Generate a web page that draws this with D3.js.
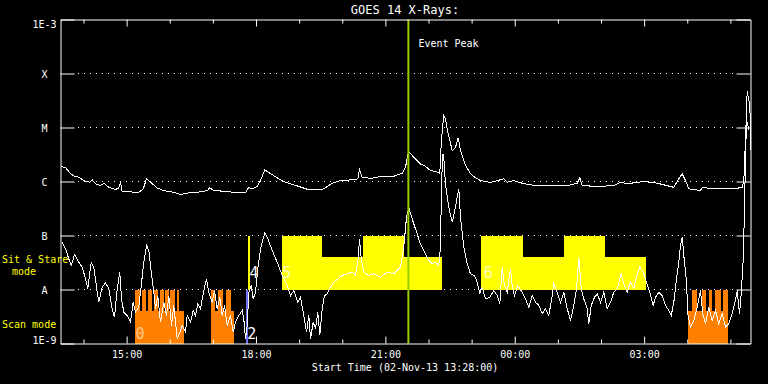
<!DOCTYPE html>
<html>
<head>
<meta http-equiv="Content-type" content="text/html; charset=utf-8">
<title>GOES 14 X-Rays</title>
<script src="https://d3js.org/d3.v7.min.js"></script>
<style>
  html, body { margin: 0; background: #000; }
  text { font-family: "DejaVu Sans Mono", monospace; }
</style>
</head>
<body>
<div id="chart"></div>
<script>
// start of the plot and its length
var startTime = "2013-11-02T13:28:00Z";
var spanHours = 16;
var eventPeak = "2013-11-02T21:32:00Z";

// long channel (1-8 A), minutes after start / W m^-2
var longMin = [1,7,14,19,25.5,32.4,40.8,44.1,48.7,55.7,
  60.2,67.2,76.5,81.1,83.5,85.8,97.4,108.9,115.1,119.7,
  125.2,134.5,143.7,157.6,167,176.3,190.2,204.1,207.7,213.3,
  227.2,241.1,257.4,262,266.7,273.7,278.3,284.2,292.2,301.5,
  310.7,320,331.5,343.2,357.2,366.3,378,389.6,403.5,413.6,
  416,419.8,431.3,445.2,463.7,475.4,480,484.2,485.6,491.5,
  500.9,505.5,514.8,524.1,527.7,529.7,531.5,533.3,535.6,538.8,
  545,549.6,553.3,556.5,563.5,570.4,577.4,584.4,598.3,616.8,
  621.5,630.7,644.6,663.2,686.3,705,718.9,722.5,725.8,746.7,
  769.8,779.1,788.4,811.5,830.2,853.3,860.2,865,869.6,874.2,
  890.4,892.8,908.9,936.8,948.5,950.7,953,955.4,956.8,958.6,
  959.5,960];
var longFlux = [1.9e-6,1.8e-6,1.4e-6,1.25e-6,1.2e-6,1.04e-6,9.7e-7,1.07e-6,9.1e-7,8.4e-7,
  9.3e-7,7.8e-7,7.1e-7,7.6e-7,9.7e-7,6.5e-7,6.4e-7,6.3e-7,7.3e-7,1.12e-6,
  9.7e-7,7.6e-7,6.8e-7,6.3e-7,5.75e-7,6.1e-7,6.3e-7,6.8e-7,7.6e-7,6.8e-7,
  6.6e-7,6.3e-7,6.2e-7,7.8e-7,7.3e-7,8.1e-7,1.04e-6,1.65e-6,1.4e-6,1.17e-6,
  1.0e-6,9.1e-7,8.1e-7,7.2e-7,7.0e-7,7.3e-7,9.3e-7,1.04e-6,1.07e-6,1.12e-6,
  1.65e-6,1.2e-6,1.14e-6,1.23e-6,1.25e-6,1.43e-6,1.84e-6,3.6e-6,3.5e-6,2.8e-6,
  2.1e-6,2.0e-6,1.6e-6,1.5e-6,1.39e-6,5.0e-6,1.01e-5,1.67e-5,1.47e-5,8.2e-6,
  3.75e-6,4.3e-6,6.45e-6,3.75e-6,2.0e-6,1.39e-6,1.17e-6,1.04e-6,9.6e-7,1.12e-6,
  9.7e-7,1.04e-6,9.1e-7,8.3e-7,8.4e-7,8.4e-7,9.3e-7,1.17e-6,8.4e-7,8.1e-7,
  8.4e-7,9.7e-7,9.1e-7,1.0e-6,9.3e-7,7.8e-7,1.12e-6,1.39e-6,1.04e-6,7.3e-7,
  6.8e-7,7.8e-7,7.3e-7,7.3e-7,7.8e-7,1.04e-6,5.75e-6,4.8e-5,3.64e-5,2.8e-5,
  1.67e-5,3.75e-6];

// short channel (0.5-4 A)
var shortMin = [2.4,7,11.5,14.9,19.5,25.5,30.2,34.8,38,42.7,
  46.3,51.1,53.3,58,62.6,67.2,71.9,75.1,78.9,82.5,
  84.9,88.1,92.8,97.4,101.1,104.3,108.9,111.3,115.9,119.7,
  122.9,126.2,129.8,132.2,135.4,139.1,143.7,147.5,150.7,154.4,
  157.6,162.4,166,169.3,173.9,176.3,180.9,184.6,187.8,191,
  194.8,199.4,203.1,206.3,211.1,214.3,218,221.6,225,228.2,
  231.9,236.5,240.3,243.5,248.1,252.8,255,257.4,259.8,262,
  265.3,268.1,271.3,274.5,278.3,282,284.2,287.6,294.5,301.5,
  308.4,315.4,320,324.6,330.2,333.9,338.5,342.3,345.5,347.8,
  351.6,354.8,358,360.8,364.1,367.3,371.1,375.7,380.2,385,
  391.9,398.9,405.8,410.4,414.2,416,418.4,422,428.9,435.9,
  445.2,454.5,463.7,470.7,473,477.6,481.4,484.6,487,491.5,
  496.3,499.9,503.2,507.8,512.4,517.2,521.7,526.3,528.7,530.1,
  531.9,533.3,535.6,540.2,545,548.6,551.9,554.2,556.5,561.1,
  565.8,570.4,576,579.7,583.4,586.7,591.3,597.3,602.9,607.6,
  611.2,614.5,617.7,621.5,626.1,628.4,631.6,636.2,642.4,647,
  651.6,656.3,660.9,665.5,670.2,674.8,679.4,684.1,686.3,691,
  695.7,700.3,705,709.6,714.2,717.9,721.1,724.5,728.1,732.8,
  735,738.4,743,746.7,751.3,755.9,760.6,765.2,769.8,774.5,
  780.1,783.7,788.4,793,797.6,802.4,806,810.7,815.3,819.9,
  824.6,827.8,832.4,837.2,841.7,846.3,849.7,853.3,857,860.2,
  862.6,865,867.2,871,872.8,876.5,881.1,885.8,890.4,893.6,
  897.4,902,906.7,911.3,915.9,920.6,925.2,929.8,934.5,939.1,
  941.5,944.7,947.1,949.8,951.6,953,954.4,958];
var shortFlux = [7.5e-8,5.7e-8,3.7e-8,2.8e-8,4.4e-8,3.2e-8,2.6e-8,1.58e-8,1.03e-8,3.2e-8,
  2.6e-8,8.9e-9,5.8e-9,1.1e-8,1.33e-8,1.03e-8,4.4e-9,3.07e-9,1.03e-8,2.09e-8,
  6.7e-9,3.8e-9,3.3e-9,2.48e-9,5.8e-9,3.8e-9,4.7e-9,8.9e-9,3.2e-8,6.5e-8,
  5.3e-8,2.1e-8,8.9e-9,4.4e-9,7.7e-9,2.48e-9,5.8e-9,3.3e-9,7.7e-9,2.15e-9,
  5.06e-9,1.22e-9,1.62e-9,2.15e-9,1.62e-9,3.3e-9,2.48e-9,4.1e-9,3.3e-9,5.4e-9,
  4.4e-9,9.6e-9,1.58e-8,8.9e-9,5.8e-9,9.6e-9,4.4e-9,7.2e-9,3.3e-9,5.06e-9,
  2.15e-9,3.3e-9,1.62e-9,2.48e-9,3.3e-9,4.1e-9,2.87e-9,1.22e-9,2.15e-9,8.9e-9,
  1.19e-8,6.7e-9,8.9e-9,2.42e-8,5.67e-8,8.7e-8,1.12e-7,9.3e-8,5.3e-8,3.2e-8,
  1.82e-8,1.19e-8,7.7e-9,9.6e-9,5.8e-9,7.2e-9,3.3e-9,1.62e-9,3.3e-9,1.22e-9,
  2.48e-9,1.87e-9,3.8e-9,1.41e-9,4.4e-9,7.7e-9,8.3e-9,1.1e-8,1.37e-8,1.53e-8,
  1.82e-8,1.95e-8,2.1e-8,1.82e-8,3.7e-8,8.7e-8,3.7e-8,2.1e-8,1.82e-8,1.95e-8,
  1.69e-8,2.1e-8,1.95e-8,2.42e-8,2.6e-8,6.1e-8,2.18e-7,3.35e-7,2.52e-7,1.65e-7,
  1.07e-7,7.5e-8,6.1e-8,4.6e-8,3.45e-8,3.0e-8,3.2e-8,2.8e-8,6.1e-8,9.1e-7,
  3.26e-6,2.8e-6,9.1e-7,3.35e-7,1.76e-7,2.9e-7,5.1e-7,7.3e-7,2.18e-7,6.1e-8,
  3.0e-8,1.95e-8,1.82e-8,1.37e-8,8.6e-9,1.1e-8,6.7e-9,7.2e-9,9.6e-9,7.7e-9,
  5.4e-9,2.6e-8,1.19e-8,8.9e-9,2.42e-8,1.19e-8,7.7e-9,1.19e-8,8.9e-9,6.7e-9,
  4.7e-9,7.7e-9,5.8e-9,5.06e-9,3.55e-9,4.4e-9,3.3e-9,7.7e-9,1.28e-8,8.9e-9,
  5.8e-9,8.9e-9,4.4e-9,2.67e-9,5.06e-9,1.03e-8,3.96e-8,1.03e-8,6.7e-9,4.4e-9,
  2.32e-9,5.06e-9,7.2e-9,8.3e-9,5.8e-9,8.9e-9,4.4e-9,5.8e-9,8.9e-9,1.03e-8,
  1.95e-8,1.28e-8,8.9e-9,1.37e-8,1.03e-8,1.95e-8,2.6e-8,2.1e-8,1.37e-8,8.9e-9,
  5.06e-9,7.2e-9,8.9e-9,7.7e-9,5.06e-9,4.1e-9,3.3e-9,5.8e-9,1.58e-8,3.2e-8,
  6.5e-8,9.3e-8,4.26e-8,1.37e-8,3.55e-9,2.0e-9,2.67e-9,4.7e-9,9.6e-9,3.55e-9,
  2.32e-9,4.7e-9,2.67e-9,4.1e-9,2.32e-9,3.55e-9,2.0e-9,2.32e-9,3.55e-9,6.26e-9,
  9.6e-9,3.55e-9,8.3e-9,3.45e-8,2.9e-7,2.45e-6,1.35e-5,8.8e-6];

// observing blocks: [start min, end min, fraction of band filled]
var scanBlocks = [[103,171.5,0.61],[208.7,242,0.61],[873.3,929,0.61],
  [103,110,1],[113.5,118.5,1],[121.5,127.5,1],[130,135.5,1],[138,143.5,1],
  [146,150.5,1],[153,159,1],[161.5,164.5,1],
  [208.7,215,1],[218.7,225.6,1],[229.9,236.9,1],
  [878.9,885.8,1],[892.8,897.4,1],[902,906.7,1],[911.3,918.3,1],[922,928.7,1]];
var otherBlocks = [[257.4,260.6,1]];
var sitBlocks = [[260.2,263.4,1],[307.5,364,1],[364,421,0.61],[421,477.5,1],[477.5,531,0.61],
  [585.5,643.5,1],[643.5,700,0.61],[700,758,1],[758,815,0.61]];
var blockLabels = [["0",104.3,"scan","#ffc890"],["2",259.8,"scan","#ffffff"],
  ["4",263,"sit","#ffffff"],["5",308.4,"sit","#ffffc0"],["6",589,"sit","#ffffc0"]];

var levelValues = [1e-3,1e-4,1e-5,1e-6,1e-7,1e-8,1e-9];
var levelLabels = ["1E-3","X","M","C","B","A","1E-9"];

var width = 768, height = 384;
var t0 = new Date(startTime);
var tEnd = new Date(t0.getTime() + spanHours * 3600e3);
function at(m) { return new Date(t0.getTime() + m * 60e3); }

var x = d3.scaleUtc().domain([t0, tEnd]).range([60.5, 750.5]);
var y = d3.scaleLog().domain([1e-9, 1e-3]).range([343.5, 19.5]);

var svg = d3.select('#chart').append('svg')
  .attr('width', width).attr('height', height)
  .style('display', 'block')
  .style('background', '#000');

// dotted level lines
svg.append('g').selectAll('line')
  .data(levelValues.slice(1, 6))
  .enter().append('line')
  .attr('x1', 78).attr('x2', 736)
  .attr('y1', function(d) { return y(d); })
  .attr('y2', function(d) { return y(d); })
  .attr('stroke', '#fff').attr('stroke-dasharray', '1,5')
  .attr('shape-rendering', 'crispEdges');

// mode blocks
function bandTop(lo, f) { return lo * Math.pow(10, f); }
function drawBlocks(data, lo, color) {
  svg.append('g').selectAll('rect')
    .data(data).enter().append('rect')
    .attr('x', function(d) { return x(at(d[0])); })
    .attr('width', function(d) { return x(at(d[1])) - x(at(d[0])); })
    .attr('y', function(d) { return y(bandTop(lo, d[2])); })
    .attr('height', function(d) { return y(lo) - y(bandTop(lo, d[2])); })
    .attr('fill', color)
    .attr('shape-rendering', 'crispEdges');
}
drawBlocks(scanBlocks, 1e-9, '#ff8000');
drawBlocks(otherBlocks, 1e-9, '#7070ff');
drawBlocks(sitBlocks, 1e-8, '#ffff00');

svg.append('g').selectAll('text')
  .data(blockLabels).enter().append('text')
  .attr('x', function(d) { return x(at(d[1])); })
  .attr('y', function(d) { return d[2] === 'scan' ? y(1e-9) - 5 : y(1e-8) - 12; })
  .attr('fill', function(d) { return d[3]; })
  .attr('font-size', 15)
  .text(function(d) { return d[0]; });

// flux curves
var line = d3.line()
  .x(function(d) { return x(at(d[0])); })
  .y(function(d) { return y(d[1]); });

[[longMin, longFlux], [shortMin, shortFlux]].forEach(function(s) {
  svg.append('path')
    .datum(d3.zip(s[0], s[1]))
    .attr('d', line)
    .attr('fill', 'none')
    .attr('stroke', '#fff')
    .attr('stroke-width', 1)
    .attr('shape-rendering', 'crispEdges');
});

// event peak marker
var px = x(new Date(eventPeak));
svg.append('line')
  .attr('x1', px).attr('x2', px).attr('y1', 19.5).attr('y2', 343.5)
  .attr('stroke', '#99cc00').attr('stroke-width', 2);
svg.append('text').attr('x', px + 10).attr('y', 47)
  .attr('fill', '#fff').attr('font-size', 10).text('Event Peak');

// axes
var hours = d3.utcHour.range(d3.utcHour.ceil(t0), tEnd);
var fmt = d3.utcFormat('%H:%M');
function isMajor(d) { return d.getUTCHours() % 3 === 0; }

var bottomAxis = svg.append('g')
  .attr('transform', 'translate(0,343.5)')
  .style('color', '#fff')
  .call(d3.axisBottom(x).tickValues(hours).tickSizeInner(-4).tickSizeOuter(0)
    .tickFormat(function(d) { return isMajor(d) ? fmt(d) : ''; }));
bottomAxis.selectAll('.tick line').attr('y2', function(d) { return isMajor(d) ? -7 : -4; });
bottomAxis.selectAll('.tick text').attr('y', 14.5).attr('dy', 0)
  .attr('font-size', 10).attr('font-family', '"DejaVu Sans Mono", monospace');

var topAxis = svg.append('g')
  .attr('transform', 'translate(0,19.5)')
  .style('color', '#fff')
  .call(d3.axisTop(x).tickValues(hours).tickSizeInner(-4).tickSizeOuter(0)
    .tickFormat(''));
topAxis.selectAll('.tick line').attr('y2', function(d) { return isMajor(d) ? 7 : 4; });

var leftAxis = svg.append('g')
  .attr('transform', 'translate(60.5,0)')
  .style('color', '#fff')
  .call(d3.axisLeft(y).tickValues(levelValues).tickSizeInner(-14).tickSizeOuter(0)
    .tickFormat(function(d, i) { return levelLabels[i]; }));
leftAxis.selectAll('.tick text')
  .attr('x', -16).attr('text-anchor', 'middle')
  .attr('font-size', 10).attr('font-family', '"DejaVu Sans Mono", monospace')
  .attr('dy', function(d, i) { return i === 0 ? '0.75em' : (i === 6 ? '-0.05em' : '0.36em'); });

svg.append('g')
  .attr('transform', 'translate(750.5,0)')
  .style('color', '#fff')
  .call(d3.axisRight(y).tickValues(levelValues).tickSizeInner(-14).tickSizeOuter(0)
    .tickFormat(''));

// titles and mode labels
svg.append('text').attr('x', 405).attr('y', 14).attr('text-anchor', 'middle')
  .attr('fill', '#fff').attr('font-size', 12).text('GOES 14 X-Rays:');
svg.append('text').attr('x', 405).attr('y', 371).attr('text-anchor', 'middle')
  .attr('fill', '#fff').attr('font-size', 10).text('Start Time (02-Nov-13 13:28:00)');

svg.append('text').attr('x', 2).attr('y', 263).attr('fill', '#ffff00')
  .attr('font-size', 10).text('Sit & Stare');
svg.append('text').attr('x', 12).attr('y', 275).attr('fill', '#ffff00')
  .attr('font-size', 10).text('mode');
svg.append('text').attr('x', 2).attr('y', 328).attr('fill', '#ffff00')
  .attr('font-size', 10).text('Scan mode');
</script>
</body>
</html>
